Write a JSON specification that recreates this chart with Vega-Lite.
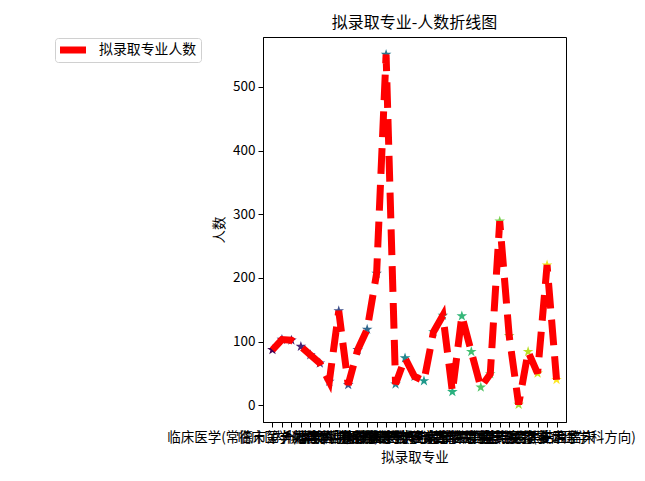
{
  "$schema": "https://vega.github.io/schema/vega-lite/v6.json",
  "width": 303,
  "height": 385,
  "autosize": {"type": "none"},
  "padding": {"left": 263, "top": 37, "right": 79, "bottom": 59},
  "background": "white",
  "title": {"text": "拟录取专业-人数折线图", "font": "Noto Sans CJK SC", "fontSize": 16, "fontWeight": "normal", "color": "black", "offset": 6, "anchor": "middle"},
  "data": {
    "values": [
      {"序号": 0, "专业": "临床医学(常德市第一人民医院培养)", "人数": 87},
      {"序号": 1, "专业": "临床医学(本部)", "人数": 103},
      {"序号": 2, "专业": "内科学", "人数": 102},
      {"序号": 3, "专业": "外科学", "人数": 92},
      {"序号": 4, "专业": "儿科学", "人数": 79},
      {"序号": 5, "专业": "妇产科学", "人数": 66},
      {"序号": 6, "专业": "眼科学", "人数": 37},
      {"序号": 7, "专业": "耳鼻咽喉科学", "人数": 148},
      {"序号": 8, "专业": "肿瘤学", "人数": 32},
      {"序号": 9, "专业": "麻醉学", "人数": 87},
      {"序号": 10, "专业": "急诊医学", "人数": 119},
      {"序号": 11, "专业": "全科医学", "人数": 207},
      {"序号": 12, "专业": "临床医学", "人数": 551},
      {"序号": 13, "专业": "康复医学与理疗学", "人数": 33},
      {"序号": 14, "专业": "影像医学与核医学", "人数": 74},
      {"序号": 15, "专业": "临床检验诊断学", "人数": 45},
      {"序号": 16, "专业": "神经病学", "人数": 38},
      {"序号": 17, "专业": "精神病与精神卫生学", "人数": 115},
      {"序号": 18, "专业": "皮肤病与性病学", "人数": 141},
      {"序号": 19, "专业": "老年医学", "人数": 21},
      {"序号": 20, "专业": "口腔医学", "人数": 140},
      {"序号": 21, "专业": "公共卫生", "人数": 84},
      {"序号": 22, "专业": "护理", "人数": 28},
      {"序号": 23, "专业": "药学", "人数": 49},
      {"序号": 24, "专业": "中药学", "人数": 289},
      {"序号": 25, "专业": "基础医学", "人数": 109},
      {"序号": 26, "专业": "病理学与病理生理学", "人数": 1},
      {"序号": 27, "专业": "免疫学", "人数": 84},
      {"序号": 28, "专业": "医学技术", "人数": 50},
      {"序号": 29, "专业": "中西医结合临床", "人数": 220},
      {"序号": 30, "专业": "临床医学(重症医学科方向)", "人数": 40}
    ]
  },
  "encoding": {
    "x": {
      "field": "专业", "type": "ordinal", "sort": null,
      "scale": {"type": "point", "padding": 1.5},
      "axis": {"title": "拟录取专业", "titleFont": "Noto Sans CJK SC", "titleFontSize": 13.5, "titleFontWeight": "normal", "titleColor": "black", "titlePadding": 7,
               "labelAngle": 0, "labelOverlap": false, "labelLimit": 0, "labelFont": "Noto Sans CJK SC", "labelFontSize": 13.5, "labelColor": "black", "labelPadding": 3,
               "tickColor": "black", "tickSize": 5, "domainColor": "black", "grid": false}
    },
    "y": {
      "field": "人数", "type": "quantitative",
      "scale": {"domain": [-26.5, 578.5], "nice": false, "zero": false},
      "axis": {"title": "人数", "values": [0, 100, 200, 300, 400, 500], "titleFont": "Noto Sans CJK SC", "titleFontSize": 13.5, "titleFontWeight": "normal", "titleColor": "black", "titlePadding": 6,
               "labelFont": "Noto Sans CJK SC", "labelFontSize": 13.5, "labelColor": "black", "labelPadding": 3,
               "tickColor": "black", "tickSize": 5, "domainColor": "black", "grid": false}
    }
  },
  "layer": [
    {
      "mark": {"type": "point", "shape": "M0,-1L0.2245,-0.309L0.951,-0.309L0.363,0.118L0.588,0.809L0,0.382L-0.588,0.809L-0.363,0.118L-0.951,-0.309L-0.2245,-0.309Z", "filled": true, "size": 125, "opacity": 1, "strokeWidth": 0},
      "encoding": {"fill": {"field": "序号", "type": "quantitative", "scale": {"scheme": "viridis"}, "legend": null}}
    },
    {
      "mark": {"type": "line", "strokeWidth": 7, "strokeDash": [25.7, 11.1], "strokeCap": "butt"},
      "encoding": {
        "stroke": {"datum": "拟录取专业人数", "scale": {"range": ["red"]},
          "legend": {"orient": "none", "legendX": -208, "legendY": 1, "title": null, "symbolType": "M-0.875,-0.4375L2.375,-0.4375L2.375,0.4375L-0.875,0.4375Z", "symbolStrokeWidth": 0, "symbolSize": 256,
                     "clipHeight": 16,
                     "labelFont": "Noto Sans CJK SC", "labelFontSize": 13.9, "labelColor": "black", "labelOffset": 24,
                     "strokeColor": "#d0d0d0", "cornerRadius": 3, "padding": 4, "fillColor": "white",
                     "encode": {"symbols": {"update": {"fill": {"value": "red"}, "strokeWidth": {"value": 0}, "opacity": {"value": 1}, "fillOpacity": {"value": 1}}}}}}
      }
    }
  ],
  "config": {"view": {"stroke": "black", "strokeWidth": 1}}
}
